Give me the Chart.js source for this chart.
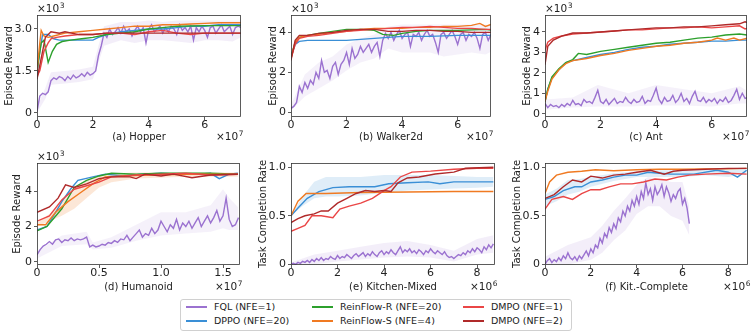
<!DOCTYPE html>
<html>
<head>
<meta charset="utf-8">
<script src="https://cdn.jsdelivr.net/npm/chart.js@4.4.1/dist/chart.umd.min.js"></script>
<style>
  body { margin: 0; background: #fff; width: 753px; height: 335px; position: relative; overflow: hidden; font-family: "DejaVu Sans", sans-serif; }
  canvas { position: absolute; }
  #legend { position: absolute; left: 180px; top: 299px; width: 392px; height: 32px; border: 1px solid #d0d0d0; border-radius: 3px; box-sizing: border-box; }
  .item { position: absolute; font-size: 9.5px; line-height: 12px; white-space: nowrap; color: #222; }
  .item .ln { display: inline-block; width: 21px; height: 1.5px; vertical-align: middle; margin-right: 7px; margin-top: -1px; }
</style>
</head>
<body>
<div id="legend"></div>
<script>
// ---- series names / colours ----
const seriesNames = ['FQL (NFE=1)', 'DPPO (NFE=20)', 'ReinFlow-R (NFE=20)', 'ReinFlow-S (NFE=4)', 'DMPO (NFE=1)', 'DMPO (NFE=2)'];
const seriesColors = ['#9b72d0', '#3a8fd6', '#2ca02c', '#f07a22', '#ea4646', '#b02a2a'];

// ---- (a) Hopper, x in 1e7, y in 1e3 ----
const hopperFql = [0.05,0.6,0.7,0.65,0.75,1.15,1.25,1.2,1.3,1.25,1.15,1.3,1.2,1.35,1.25,1.3,1.4,1.3,1.45,1.35,
  1.4,1.5,2.05,2.4,2.85,2.7,3.0,2.8,2.9,3.05,2.85,3.1,2.9,3.0,2.75,2.95,3.1,2.9,3.05,2.5,
  3.0,3.15,2.9,3.0,3.1,2.85,3.05,2.9,3.1,3.0,2.8,3.15,2.95,3.05,2.9,3.1,2.6,3.05,2.9,3.1,
  2.95,2.7,3.05,3.1,2.85,3.0,3.15,2.9,3.0,3.1,2.8,3.05,3.1,3.05];
const hopperFqlBand = [[0,0,0.2],[0.3,0.5,0.9],[0.5,1.0,1.45],[1,1.05,1.5],[1.5,1.1,1.55],[2.0,1.2,1.65],[2.2,1.8,2.4],[2.4,2.4,3.1],
  [3,2.6,3.25],[3.5,2.5,3.25],[4,2.6,3.3],[4.5,2.6,3.25],[5,2.55,3.3],[5.5,2.5,3.3],[6,2.6,3.3],[6.5,2.6,3.3],[7,2.55,3.3],[7.3,2.7,3.3]];
const hopperDppo = [[0,1.4],[0.1,2.2],[0.2,2.8],[0.4,2.8],[0.6,2.65],[0.8,2.6],[1.2,2.6],[1.6,2.6],[2.0,2.6],[2.2,2.7],[2.5,2.8],[3.0,2.9],[3.5,2.95],[4.0,3.0],[4.5,3.0],[5.0,3.05],[5.5,3.1],[6.0,3.1],[6.5,3.15],[7.3,3.15]];
const hopperReinR = [[0,1.5],[0.15,2.5],[0.25,2.6],[0.4,1.8],[0.55,2.2],[0.7,2.45],[0.9,2.55],[1.2,2.6],[1.6,2.65],[2.0,2.7],[2.5,2.8],[3.0,2.85],[3.5,2.9],[4.0,3.0],[4.5,3.05],[5.0,3.1],[6.0,3.12],[7.3,3.12]];
const hopperReinS = [[0,1.5],[0.1,2.5],[0.15,2.95],[0.25,2.75],[0.4,2.7],[0.6,2.75],[1.0,2.85],[1.5,2.9],[2.0,2.95],[2.5,3.0],[3.0,3.05],[3.5,3.1],[4.0,3.1],[4.5,3.15],[5.0,3.15],[5.5,3.18],[6.0,3.2],[6.5,3.22],[7.3,3.22]];
const hopperDmpo1 = [[0,1.3],[0.1,1.5],[0.25,2.2],[0.4,2.5],[0.5,2.65],[0.7,2.7],[1.0,2.75],[1.5,2.8],[2.0,2.8],[2.5,2.85],[3.0,2.85],[3.5,2.8],[4.0,2.9],[4.5,2.95],[5.0,2.85],[5.5,2.8],[6.0,2.85],[7.3,2.85]];
const hopperDmpo2 = [[0,1.2],[0.1,1.7],[0.3,2.7],[0.5,2.9],[0.8,2.85],[1.0,2.9],[1.5,2.8],[2.0,2.8],[2.5,2.85],[3.0,2.85],[4.0,2.85],[5.0,2.85],[6.0,2.85],[7.3,2.85]];

// ---- (b) Walker2d ----
const walkerFql = [0.2,0.3,0.5,1.3,1.0,1.5,1.2,1.6,1.4,2.0,1.7,2.6,2.0,2.1,1.7,2.3,2.5,1.9,2.4,2.6,
  3.0,2.4,3.2,2.7,2.9,3.3,3.0,3.2,3.4,3.0,3.3,3.5,2.8,3.6,3.95,3.7,4.0,3.6,3.9,4.1,
  3.7,3.9,4.0,3.3,3.9,3.8,4.0,3.6,3.9,4.1,3.8,3.9,3.5,3.0,3.9,4.0,3.7,3.9,4.1,3.8,
  3.4,3.9,4.0,3.6,3.9,3.8,4.0,3.7,3.2,3.9,4.0,3.6,3.9,3.7];
const walkerFqlBand = [[0,0.1,0.4],[0.5,0.8,1.9],[1,1.2,2.5],[1.5,1.6,2.8],[2,2.1,3.4],[2.5,2.5,3.7],[3,2.7,3.9],[3.5,3.2,4.3],
  [4,3.0,4.4],[4.5,3.0,4.4],[5,3.0,4.4],[5.5,2.8,4.4],[6,2.9,4.4],[6.5,3.0,4.4],[7,2.9,4.4],[7.3,3.1,4.3]];
const walkerDppo = [[0,2.8],[0.15,3.4],[0.3,3.55],[0.6,3.6],[1,3.6],[1.5,3.6],[2,3.6],[2.5,3.65],[3,3.7],[3.5,3.75],[4,3.8],[5,3.8],[6,3.85],[7.3,3.85]];
const walkerReinR = [[0,2.8],[0.15,3.5],[0.3,3.75],[0.6,3.85],[1,3.95],[1.5,4.05],[2,4.15],[2.5,4.15],[3,4.1],[3.3,3.9],[3.7,3.85],[4,3.95],[4.5,4.05],[5,4.1],[6,4.1],[7,4.15],[7.3,4.1]];
const walkerReinS = [[0,2.7],[0.15,3.5],[0.3,3.75],[0.6,3.85],[1,3.9],[1.5,4.0],[2,4.05],[2.5,4.15],[3,4.2],[3.5,4.2],[4,4.2],[4.5,4.25],[5,4.25],[5.5,4.3],[6,4.3],[6.5,4.35],[6.8,4.45],[7.0,4.3],[7.2,4.4],[7.3,4.25]];
const walkerDmpo1 = [[0,2.7],[0.15,3.4],[0.3,3.7],[0.6,3.8],[1,3.85],[1.5,3.95],[2,4.05],[2.5,4.1],[3,4.15],[3.5,4.2],[4,4.25],[4.5,4.25],[5,4.3],[5.5,4.25],[6,4.2],[6.5,4.2],[7,4.15],[7.3,4.15]];
const walkerDmpo2 = [[0,2.6],[0.15,3.6],[0.3,3.85],[0.6,3.85],[1,3.95],[1.5,4.0],[2,4.1],[2.5,4.15],[3,4.15],[3.5,4.05],[4,4.05],[4.5,4.1],[5,4.1],[5.5,4.05],[6,4.05],[6.5,4.0],[7,4.0],[7.3,4.0]];

// ---- (c) Ant ----
const antFql = [0.5,0.3,0.45,0.35,0.4,0.3,0.45,0.35,0.5,0.4,0.65,0.45,0.5,0.4,0.7,0.55,0.6,0.5,0.8,1.15,
  0.6,0.5,0.7,0.45,0.6,0.75,0.5,0.6,0.55,0.8,0.6,0.5,0.7,0.55,0.6,0.85,0.5,0.65,0.6,0.9,
  1.25,0.7,0.5,0.8,0.6,0.65,0.9,0.55,0.7,1.0,0.6,0.75,0.5,0.85,1.1,0.65,0.6,0.8,0.55,0.7,
  0.6,0.75,0.5,0.7,0.6,0.8,0.55,0.65,0.9,1.2,0.7,1.0,0.75,0.8];
const antFqlBand = [[0,0.2,0.7],[1,0.3,0.8],[1.9,0.35,1.4],[3,0.35,1.0],[4,0.4,1.4],[5,0.4,1.2],[6,0.35,1.0],[7,0.5,1.35],[7.3,0.5,1.1]];
const antDppo = [[0,0.6],[0.1,1.2],[0.25,1.75],[0.5,2.15],[0.75,2.5],[1,2.6],[1.5,2.75],[2,2.9],[2.5,3.0],[3,3.15],[3.5,3.25],[4,3.3],[4.5,3.4],[5,3.45],[5.5,3.5],[6,3.55],[6.5,3.55],[7,3.6],[7.3,3.6]];
const antReinR = [[0,0.6],[0.1,1.2],[0.25,1.8],[0.5,2.2],[0.75,2.5],[1,2.65],[1.2,2.95],[1.5,2.9],[2,3.05],[2.5,3.15],[3,3.25],[3.5,3.35],[4,3.45],[4.5,3.5],[5,3.6],[5.5,3.7],[6,3.75],[6.5,3.85],[7,3.9],[7.3,3.85]];
const antReinS = [[0,0.6],[0.1,1.1],[0.25,1.7],[0.5,2.15],[0.75,2.45],[1,2.6],[1.5,2.7],[2,2.85],[2.5,2.95],[3,3.1],[3.5,3.2],[4,3.3],[4.5,3.35],[5,3.45],[5.5,3.5],[6,3.6],[6.2,3.7],[6.5,3.6],[6.8,3.7],[7,3.6],[7.3,3.7]];
const antDmpo1 = [[0,3.1],[0.1,3.5],[0.3,3.7],[0.6,3.8],[1,3.9],[1.5,3.95],[2,4.0],[2.5,4.05],[3,4.1],[3.5,4.1],[4,4.15],[4.5,4.2],[5,4.2],[5.5,4.25],[6,4.2],[6.5,4.25],[7,4.3],[7.2,4.15],[7.3,4.2]];
const antDmpo2 = [[0,2.4],[0.1,3.3],[0.3,3.6],[0.6,3.8],[1,3.95],[1.5,3.95],[2,4.0],[2.5,4.05],[3,4.1],[3.5,4.15],[4,4.2],[4.5,4.2],[5,4.25],[5.5,4.25],[6,4.3],[6.5,4.35],[7,4.4],[7.2,4.5],[7.3,4.45]];

// ---- (d) Humanoid, x in 1e7 ----
const humanoidFql = [0.4,0.7,0.9,1.0,1.15,1.0,1.25,1.3,1.1,1.25,1.2,1.35,1.2,1.3,1.25,1.3,1.4,0.85,0.95,0.85,
  0.9,1.0,0.95,1.1,1.05,1.2,1.1,1.3,1.25,1.5,1.2,1.4,1.6,1.8,1.4,1.6,1.5,1.9,1.6,1.8,
  2.3,2.0,1.7,2.1,1.9,2.4,1.8,2.2,2.0,2.3,1.9,2.2,2.5,2.0,2.3,2.6,2.2,2.5,2.9,2.3,
  2.6,3.6,2.4,2.0,2.1,2.5];
const humanoidFqlBand = [[0,0.2,0.6],[0.2,0.9,1.5],[0.4,1.0,1.7],[0.45,0.7,1.1],[0.6,0.8,1.4],[0.8,1.2,2.1],[1.0,1.5,2.8],[1.2,1.6,2.8],[1.4,1.7,3.2],[1.5,1.9,4.1],[1.55,1.8,3.6],[1.62,1.8,3.1]];
const humanoidDppo = [[0,1.8],[0.08,2.0],[0.15,2.8],[0.2,3.4],[0.27,4.1],[0.33,4.6],[0.45,4.8],[0.55,4.95],[0.7,4.85],[0.85,4.95],[1.0,5.0],[1.15,4.95],[1.3,4.95],[1.4,5.0],[1.47,4.7],[1.55,4.95],[1.62,5.0]];
const humanoidReinR = [[0,1.75],[0.08,2.0],[0.2,3.0],[0.3,4.2],[0.4,4.6],[0.5,4.85],[0.6,5.0],[0.8,4.95],[1.0,5.0],[1.2,5.0],[1.4,5.0],[1.62,4.95]];
const humanoidReinS = [[0,2.1],[0.07,2.1],[0.15,2.8],[0.25,3.4],[0.35,3.9],[0.45,4.4],[0.55,4.8],[0.7,4.85],[0.9,4.9],[1.2,4.95],[1.4,4.95],[1.62,4.95]];
const humanoidReinSBand = [[0,2.0,2.2],[0.1,2.3,2.7],[0.2,2.6,3.4],[0.3,3.0,4.1],[0.4,3.6,4.6],[0.5,4.2,4.9],[0.6,4.5,5.0],[0.8,4.7,5.05],[1.2,4.8,5.05],[1.62,4.8,5.05]];
const humanoidDmpo1 = [[0,2.3],[0.1,2.6],[0.2,3.5],[0.3,4.1],[0.4,4.3],[0.5,4.5],[0.6,4.8],[0.8,4.9],[1.0,4.95],[1.2,5.0],[1.4,4.9],[1.62,4.95]];
const humanoidDmpo2 = [[0,2.8],[0.1,3.1],[0.17,3.6],[0.23,4.35],[0.3,4.2],[0.4,4.4],[0.5,4.7],[0.6,4.8],[0.75,4.8],[0.8,4.7],[0.87,4.95],[1.0,4.85],[1.1,4.95],[1.25,4.75],[1.4,4.9],[1.62,4.95]];

// ---- (e) Kitchen-Mixed, x in 1e6 ----
const kitchenFql = [0.0,0.01,0.0,0.02,0.01,0.03,0.02,0.04,0.02,0.05,0.03,0.06,0.04,0.07,0.04,0.06,0.05,0.08,0.06,0.05,
  0.09,0.06,0.08,0.07,0.1,0.08,0.06,0.09,0.11,0.08,0.1,0.12,0.08,0.11,0.09,0.13,0.1,0.08,0.12,0.14,
  0.1,0.13,0.11,0.15,0.12,0.1,0.14,0.18,0.12,0.15,0.13,0.16,0.12,0.14,0.11,0.15,0.13,0.1,0.14,0.12,
  0.16,0.13,0.11,0.14,0.12,0.1,0.13,0.09,0.07,0.08,0.06,0.08,0.1,0.09,0.12,0.1,0.14,0.12,0.16,0.13,
  0.17,0.15,0.12,0.18,0.15,0.2,0.17,0.21];
const kitchenFqlBand = [[0,0,0.02],[1,0.0,0.1],[2,0.03,0.14],[3,0.05,0.18],[4,0.07,0.22],[5,0.08,0.24],[6,0.07,0.2],[7,0.03,0.14],[8,0.1,0.26],[8.7,0.12,0.3]];
const kitchenDppo = [[0,0.5],[0.3,0.58],[0.7,0.68],[1.2,0.75],[1.8,0.79],[2.5,0.8],[3.0,0.8],[3.6,0.8],[4.2,0.83],[5,0.84],[5.9,0.85],[6.4,0.83],[7,0.85],[8.7,0.85]];
const kitchenDppoBand = [[0,0.5,0.5],[0.5,0.6,0.7],[1,0.68,0.85],[1.5,0.7,0.9],[2,0.7,0.9],[3,0.71,0.9],[4,0.74,0.92],[5,0.76,0.92],[6,0.77,0.92],[7,0.78,0.91],[8,0.79,0.9],[8.7,0.8,0.9]];
const kitchenReinS = [[0,0.5],[0.3,0.65],[0.65,0.73],[1.5,0.73],[3,0.74],[5,0.745],[7,0.75],[8.7,0.75]];
const kitchenDmpo1 = [[0,0.34],[0.3,0.37],[0.6,0.4],[0.9,0.5],[1.3,0.5],[1.8,0.48],[2.1,0.57],[2.5,0.6],[3.0,0.63],[3.5,0.68],[4.0,0.76],[4.3,0.8],[4.7,0.9],[5.2,0.95],[6,0.96],[7,0.98],[8,0.99],[8.7,0.99]];
const kitchenDmpo2 = [[0,0.43],[0.3,0.47],[0.6,0.5],[1.0,0.52],[1.3,0.55],[1.6,0.55],[2.0,0.63],[2.4,0.68],[2.8,0.73],[3.2,0.76],[3.6,0.75],[4.0,0.76],[4.3,0.75],[4.6,0.84],[5.0,0.89],[5.5,0.9],[6.2,0.93],[7.0,0.95],[7.5,0.99],[8.7,1.0]];

// ---- (f) Kit.-Complete, x in 1e6 ----
const completeFql = [0.0,0.04,0.06,0.02,0.05,0.03,0.07,0.04,0.09,0.06,0.12,0.07,0.05,0.08,0.04,0.09,0.06,0.1,0.14,0.09,
  0.16,0.12,0.2,0.17,0.27,0.22,0.32,0.28,0.38,0.33,0.42,0.37,0.48,0.44,0.55,0.5,0.6,0.55,0.66,0.6,
  0.7,0.62,0.75,0.68,0.84,0.72,0.78,0.66,0.8,0.72,0.76,0.82,0.7,0.8,0.74,0.65,0.72,0.68,0.75,0.78,
  0.62,0.68,0.58,0.42];
const completeFqlBand = [[0,0,0.08],[1,0.0,0.2],[2,0.05,0.28],[2.5,0.12,0.4],[3,0.25,0.55],[3.5,0.35,0.68],[4,0.52,0.82],[4.5,0.6,0.9],[5,0.6,0.88],[5.5,0.5,0.85],[6,0.45,0.85],[6.3,0.3,0.6]];
const completeDppo = [[0,0.67],[0.4,0.7],[0.8,0.76],[1.3,0.8],[1.6,0.8],[2.0,0.85],[2.5,0.87],[3.0,0.9],[3.5,0.92],[4.0,0.92],[4.5,0.95],[5.0,0.94],[5.5,0.93],[6.5,0.93],[7.5,0.97],[8.0,0.95],[8.4,0.9],[8.8,0.97]];
const completeDppoBand = [[0,0.6,0.72],[0.5,0.65,0.78],[1,0.72,0.87],[1.5,0.75,0.88],[2,0.8,0.9],[3,0.86,0.94],[4,0.9,0.96],[5,0.9,0.97],[6,0.9,0.97],[7,0.92,0.99],[8,0.9,0.99],[8.8,0.94,1.0]];
const completeReinS = [[0,0.73],[0.2,0.85],[0.5,0.92],[1.0,0.95],[1.6,0.96],[2.2,0.975],[3,0.965],[4,0.975],[5,0.98],[6,0.98],[7,0.985],[8,0.985],[8.8,0.99]];
const completeDmpo1 = [[0,0.57],[0.3,0.67],[0.8,0.7],[1.2,0.67],[1.6,0.73],[2.0,0.77],[2.4,0.77],[2.8,0.8],[3.3,0.83],[3.8,0.83],[4.3,0.85],[4.8,0.88],[5.3,0.87],[5.8,0.9],[6.3,0.92],[7.0,0.93],[8.0,0.94],[8.8,0.93]];
const completeDmpo2 = [[0,0.68],[0.4,0.72],[0.8,0.8],[1.2,0.87],[1.6,0.85],[2.0,0.91],[2.5,0.89],[3.0,0.92],[3.5,0.93],[4.0,0.95],[4.6,0.97],[5.2,0.93],[5.6,0.96],[6.0,0.97],[7.0,0.98],[8.0,0.99],[8.8,0.99]];

// ---- tick labels ----
const topXTicks = [0, 2, 4, 6];
const humanoidXTicks = [0, 0.5, 1.0, 1.5];
const humanoidXLabels = ['0', '0.5', '1.0', '1.5'];
const kitchenXTicks = [0, 2, 4, 6, 8];
const hopperYTicks = [0, 1.5, 3.0];
const hopperYLabels = ['0', '1.5', '3.0'];
const walkerYTicks = [0, 2, 4];
const antYTicks = [0, 1, 2, 3, 4];
const rateYTicks = [0, 0.5, 1.0];
const rateYLabels = ['0', '0.5', '1.0'];

const FONT = 'DejaVu Sans';
Chart.defaults.font.family = FONT;
Chart.defaults.color = '#222';

// turn an evenly sampled FQL array into [x, y] points
const stepped = (vals, dx) => vals.map((v, i) => [i * dx, v]);

const alpha = (hex, a) => {
  const n = parseInt(hex.slice(1), 16);
  return `rgba(${n >> 16},${(n >> 8) & 255},${n & 255},${a})`;
};

// box: canvas [left, top, width, height]; plot: [left, top, right, bottom]
const panels = [
  { box: [3, 0, 248, 143], plot: [37, 15, 241, 117], xmax: 7.3, ymin: -0.15, ymax: 3.5,
    xticks: topXTicks, yticks: hopperYTicks, ylabels: hopperYLabels, xpow: '7', ypow: '3',
    caption: '(a) Hopper', ytitle: 'Episode Reward',
    lines: [stepped(hopperFql, 0.1), hopperDppo, hopperReinR, hopperReinS, hopperDmpo1, hopperDmpo2],
    bands: [[0, hopperFqlBand, 0.12]] },
  { box: [267, 0, 233, 143], plot: [291, 15, 491, 117], xmax: 7.2, ymin: -0.23, ymax: 4.87,
    xticks: topXTicks, yticks: walkerYTicks, xpow: '7', ypow: '3',
    caption: '(b) Walker2d', ytitle: 'Episode Reward',
    lines: [stepped(walkerFql, 0.1), walkerDppo, walkerReinR, walkerReinS, walkerDmpo1, walkerDmpo2],
    bands: [[0, walkerFqlBand, 0.1]] },
  { box: [521, 0, 232, 143], plot: [545, 15, 747, 117], xmax: 7.27, ymin: -0.16, ymax: 4.83,
    xticks: topXTicks, yticks: antYTicks, xpow: '7', ypow: '3',
    caption: '(c) Ant', ytitle: 'Episode Reward',
    lines: [stepped(antFql, 0.1), antDppo, antReinR, antReinS, antDmpo1, antDmpo2],
    bands: [[0, antFqlBand, 0.1]] },
  { box: [11, 148, 240, 145], plot: [37, 163, 240, 265], xmax: 1.637, ymin: -0.17, ymax: 5.58,
    xticks: humanoidXTicks, xlabels: humanoidXLabels, yticks: walkerYTicks, xpow: '7', ypow: '3',
    caption: '(d) Humanoid', ytitle: 'Episode Reward',
    lines: [stepped(humanoidFql, 0.025), humanoidDppo, humanoidReinR, humanoidReinS, humanoidDmpo1, humanoidDmpo2],
    bands: [[0, humanoidFqlBand, 0.1], [3, humanoidReinSBand, 0.18]] },
  { box: [257, 148, 243, 145], plot: [291, 163, 495, 265], xmax: 8.77, ymin: -0.007, ymax: 1.044,
    xticks: kitchenXTicks, yticks: rateYTicks, ylabels: rateYLabels, xpow: '6',
    caption: '(e) Kitchen-Mixed', ytitle: 'Task Completion Rate',
    lines: [stepped(kitchenFql, 0.1), kitchenDppo, null, kitchenReinS, kitchenDmpo1, kitchenDmpo2],
    bands: [[0, kitchenFqlBand, 0.12], [1, kitchenDppoBand, 0.16]] },
  { box: [511, 148, 242, 145], plot: [545, 163, 748, 265], xmax: 8.86, ymin: -0.005, ymax: 1.045,
    xticks: kitchenXTicks, yticks: rateYTicks, ylabels: rateYLabels, xpow: '6',
    caption: '(f) Kit.-Complete', ytitle: 'Task Completion Rate',
    lines: [stepped(completeFql, 0.1), completeDppo, null, completeReinS, completeDmpo1, completeDmpo2],
    bands: [[0, completeFqlBand, 0.12], [1, completeDppoBand, 0.16]] },
];

// frame around the plot area plus the "×10ⁿ" offset labels
const framePlugin = {
  id: 'frame',
  afterDraw(chart, args, opts) {
    const { ctx, chartArea: a } = chart;
    ctx.save();
    ctx.strokeStyle = '#333';
    ctx.lineWidth = 0.8;
    ctx.strokeRect(a.left + 0.5, a.top + 0.5, a.right - a.left - 1, a.bottom - a.top - 1);
    ctx.fillStyle = '#222';
    const drawPow = (x, y, pow, align) => {
      ctx.font = `10.5px "${FONT}"`;
      const w1 = ctx.measureText('×10').width;
      ctx.font = `7.5px "${FONT}"`;
      const w2 = ctx.measureText(pow).width;
      const x0 = align === 'right' ? x - w1 - w2 : x;
      ctx.font = `10.5px "${FONT}"`;
      ctx.fillText('×10', x0, y);
      ctx.font = `7.5px "${FONT}"`;
      ctx.fillText(pow, x0 + w1 + 0.5, y - 4.5);
    };
    if (opts.ypow) drawPow(a.left, a.top - 3, opts.ypow, 'left');
    if (opts.xpow) drawPow(a.right + 2, chart.height - 3, opts.xpow, 'right');
    ctx.restore();
  }
};

const tickFont = { family: FONT, size: 11 };
const titleFont = { family: FONT, size: 10 };

panels.forEach(p => {
  const [cl, ct, cw, ch] = p.box;
  const [pl, pt, pr, pb] = p.plot;
  const canvas = document.createElement('canvas');
  canvas.width = cw;
  canvas.height = ch;
  canvas.style.left = cl + 'px';
  canvas.style.top = ct + 'px';
  document.body.appendChild(canvas);

  const datasets = [];
  // reverse so the last series (DMPO NFE=2) is drawn on top
  for (let i = p.lines.length - 1; i >= 0; i--) {
    if (!p.lines[i]) continue;
    datasets.push({ data: p.lines[i], borderColor: seriesColors[i], borderWidth: 1.4, pointRadius: 0, fill: false });
  }
  // shaded bands go last so they sit underneath the lines
  p.bands.forEach(([si, band, a]) => {
    datasets.push({ data: band.map(r => [r[0], r[1]]), borderWidth: 0, pointRadius: 0, fill: false });
    datasets.push({ data: band.map(r => [r[0], r[2]]), borderWidth: 0, pointRadius: 0, fill: '-1', backgroundColor: alpha(seriesColors[si], a) });
  });

  const axisGrid = { drawOnChartArea: false, drawTicks: true, tickLength: 3, color: '#333', lineWidth: 0.8 };

  new Chart(canvas, {
    type: 'line',
    data: { datasets },
    plugins: [framePlugin],
    options: {
      responsive: false,
      animation: false,
      devicePixelRatio: 1,
      layout: { padding: { left: 0, top: pt - ct, right: cl + cw - pr, bottom: 0 } },
      plugins: { legend: { display: false }, tooltip: { enabled: false }, frame: { xpow: p.xpow, ypow: p.ypow } },
      scales: {
        x: {
          type: 'linear', min: 0, max: p.xmax,
          afterBuildTicks: s => { s.ticks = p.xticks.map(v => ({ value: v })); },
          afterFit: s => { s.height = ct + ch - pb; },
          ticks: { font: tickFont, color: '#222', padding: -1, maxRotation: 0, autoSkip: false,
            callback: (v, i) => (p.xlabels ? p.xlabels[i] : String(p.xticks[i])) },
          grid: axisGrid,
          border: { display: false },
          title: { display: true, text: p.caption, font: titleFont, color: '#222', padding: 0 }
        },
        y: {
          type: 'linear', min: p.ymin, max: p.ymax,
          afterBuildTicks: s => { s.ticks = p.yticks.map(v => ({ value: v })); },
          afterFit: s => { s.width = pl - cl; },
          ticks: { font: tickFont, color: '#222', padding: 2, autoSkip: false,
            callback: (v, i) => (p.ylabels ? p.ylabels[i] : String(p.yticks[i])) },
          grid: axisGrid,
          border: { display: false },
          title: { display: true, text: p.ytitle, font: titleFont, color: '#222', padding: 0 }
        }
      }
    }
  });
});

// ---- legend (3 columns x 2 rows, matplotlib-style) ----
const legendCols = [186, 312, 463];
const legendRows = [307, 321];
seriesNames.forEach((name, i) => {
  const el = document.createElement('div');
  el.className = 'item';
  el.style.left = legendCols[Math.floor(i / 2)] + 'px';
  el.style.top = (legendRows[i % 2] - 6) + 'px';
  el.innerHTML = `<span class="ln" style="background:${seriesColors[i]}"></span>${name}`;
  document.body.appendChild(el);
});
</script>
</body>
</html>
